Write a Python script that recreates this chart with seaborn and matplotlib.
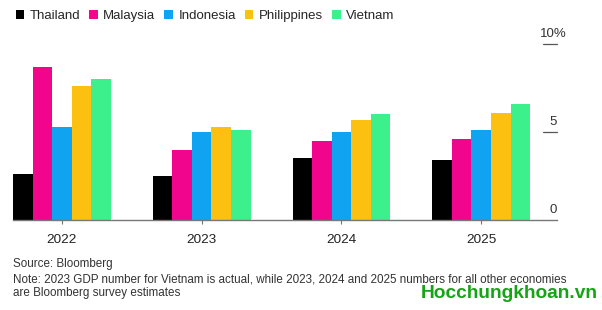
import matplotlib
matplotlib.use("Agg")
import matplotlib.pyplot as plt
import matplotlib.transforms as mtransforms
import seaborn as sns
import pandas as pd

years = ["2022", "2023", "2024", "2025"]
countries = ["Thailand", "Malaysia", "Indonesia", "Philippines", "Vietnam"]
thailand = [2.6, 2.5, 3.5, 3.4]
malaysia = [8.7, 4.0, 4.5, 4.6]
indonesia = [5.3, 5.0, 5.0, 5.1]
philippines = [7.6, 5.3, 5.7, 6.1]
vietnam = [8.0, 5.1, 6.0, 6.6]
colors = ["#000000", "#f0058c", "#10a3f2", "#fcc010", "#3cf08c"]
y_ticks = [0, 5, 10]
y_labels = ["0", "5", "10%"]

series = {"Thailand": thailand, "Malaysia": malaysia, "Indonesia": indonesia,
          "Philippines": philippines, "Vietnam": vietnam}
rows = []
for c in countries:
    for y, v in zip(years, series[c]):
        rows.append({"year": y, "country": c, "value": v})
df = pd.DataFrame(rows)

sns.set_theme(style="white")
plt.rcParams["font.family"] = ["Liberation Sans", "DejaVu Sans"]

W, H = 602, 310
fig = plt.figure(figsize=(W / 100, H / 100), dpi=100)
x0, x1 = 13, 556.7
ybot, ytop = 220, 44
ax = fig.add_axes([x0 / W, (H - ybot) / H, (x1 - x0) / W, (ybot - ytop) / H])

sns.barplot(data=df, x="year", y="value", hue="country", hue_order=countries,
            order=years, palette=colors, saturation=1, width=0.7, gap=0,
            ax=ax, legend=True, linewidth=0, edgecolor="none")

ax.set_xlim(-0.35, 3.54)
ax.set_ylim(0, 10)
for s in ["top", "left", "right"]:
    ax.spines[s].set_visible(False)
ax.spines["bottom"].set_color("#777777")
ax.spines["bottom"].set_linewidth(1.0)
ax.set_xlabel("")
ax.set_ylabel("")
ax.set_yticks([])
ax.tick_params(axis="x", bottom=True, length=3, width=0.8, color="#777777",
               labelsize=9.7, labelcolor="#222222", pad=7)

# right-side value ticks
trans = mtransforms.blended_transform_factory(ax.transAxes, ax.transData)
for v, lab in zip(y_ticks, y_labels):
    if v != 0:
        ax.plot([1 - 14 / (x1 - x0), 1.0], [v, v], transform=trans,
                color="#555555", lw=0.9, clip_on=False)
    ax.annotate(lab, xy=((553 - x0) / (x1 - x0), v), xycoords=trans,
                xytext=(0, 7.5), textcoords="offset points", ha="center",
                va="center", fontsize=9.5, color="#333333", annotation_clip=False)

handles, labels = ax.get_legend_handles_labels()
ax.get_legend().remove()
fig.legend(handles, labels, loc="center left", bbox_to_anchor=(15.5 / W, 1 - 16 / H),
           ncol=5, frameon=False, fontsize=9.5, handlelength=0.65,
           handleheight=0.65, handletextpad=0.4, columnspacing=0.7,
           borderaxespad=0, borderpad=0)

fig.text(x0 / W, 1 - 264 / H, "Source: Bloomberg", fontsize=8.4,
         color="#333333", va="center", ha="left")
fig.text(x0 / W, 1 - 279 / H,
         "Note: 2023 GDP number for Vietnam is actual, while 2023, 2024 and 2025 numbers for all other economies",
         fontsize=8.4, color="#333333", va="center", ha="left")
fig.text(x0 / W, 1 - 293 / H, "are Bloomberg survey estimates", fontsize=8.4,
         color="#333333", va="center", ha="left")
fig.text(598 / W, 1 - 293 / H, "Hocchungkhoan.vn", fontsize=13.8,
         fontweight="bold", color="#16a316", va="center", ha="right")

fig.savefig("out.png", dpi=100)
